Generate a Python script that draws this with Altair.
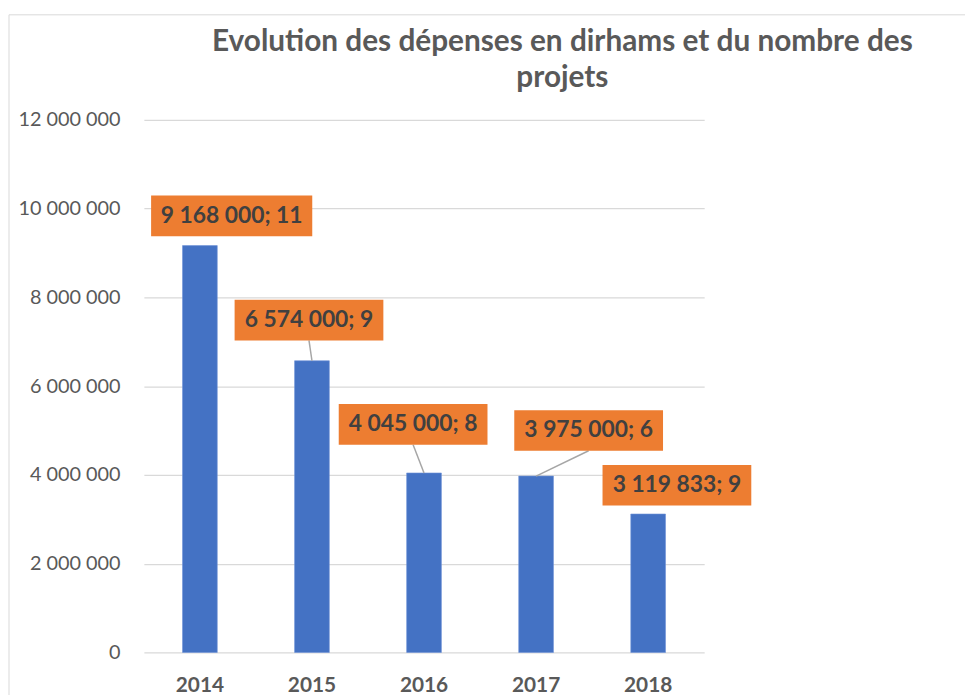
import altair as alt
import pandas as pd

# ---- data ----
years = ["2014", "2015", "2016", "2017", "2018"]
depenses = [9168000, 6574000, 4045000, 3975000, 3119833]
projets = [11, 9, 8, 6, 9]
title_lines = ["Evolution des dépenses en dirhams et du nombre des", "projets"]

# label placement (pixel offsets of the label box centre from the bar top)
label_dx = [32, -3, -11, 53, 29]
label_dy = [-30, -41, -49, -46, -29]

BOX_H = 41
FONT = "Lato"

def fmt(v):
    return f"{v:,}".replace(",", " ")

labels = [f"{fmt(v)}; {n}" for v, n in zip(depenses, projets)]

rows = []
for y, v, n, lab, dx, dy in zip(years, depenses, projets, labels, label_dx, label_dy):
    w = 12.5 * len(lab)
    box = f"M{dx - w/2:.1f},{dy - BOX_H/2:.1f}h{w:.1f}v{BOX_H}h{-w:.1f}Z"
    ey = dy + BOX_H / 2
    if abs(ey) > 15:
        leader = f"M0,0L{dx},{ey:.1f}"
    else:
        leader = "M0,0L0,0"
    rows.append(dict(annee=y, depenses=v, projets=n, label=lab, box=box, leader=leader))
df = pd.DataFrame(rows)

W, H = 565, 537

base = alt.Chart(df)
xenc = alt.X("annee:N", sort=years,
             scale=alt.Scale(paddingInner=0.69, paddingOuter=0.345),
             axis=alt.Axis(title=None, labelAngle=0, labelFont=FONT, labelFontSize=21,
                           labelFontWeight="bold", labelColor="#595959", labelPadding=22,
                           ticks=False, domain=False, grid=False))
yenc = alt.Y("depenses:Q",
             scale=alt.Scale(domain=[0, 12000000], nice=False),
             axis=alt.Axis(title=None, values=list(range(0, 12000001, 2000000)),
                           labelExpr="replace(replace(format(datum.value, ','), ',', ' '), ',', ' ')",
                           labelFont=FONT, labelFontSize=20, labelColor="#595959",
                           labelPadding=24, ticks=False, domain=False,
                           gridColor="#D9D9D9", gridWidth=1.3))

bars = base.mark_bar(color="#4472C4", stroke="#6E92D6", strokeWidth=0.6).encode(x=xenc, y=yenc)

leaders = base.mark_point(filled=False, stroke="#A6A6A6", strokeWidth=1.5, size=4, opacity=1).encode(
    x=alt.X("annee:N", sort=years), y="depenses:Q",
    shape=alt.Shape("leader:N", scale=None))

boxes = base.mark_point(filled=True, fill="#ED7D31", strokeWidth=0, size=4, opacity=1).encode(
    x=alt.X("annee:N", sort=years), y="depenses:Q",
    shape=alt.Shape("box:N", scale=None))

texts = []
for y, dx, dy in zip(years, label_dx, label_dy):
    texts.append(
        base.transform_filter(alt.datum.annee == y).mark_text(
            dx=dx, dy=dy, font=FONT, fontSize=23, fontWeight="bold", color="#404040",
            align="center", baseline="middle"
        ).encode(x=alt.X("annee:N", sort=years), y="depenses:Q", text="label:N")
    )

one = alt.Chart(alt.Data(values=[{"a": 1}]))
frame_left = one.mark_rule(color="#D9D9D9", strokeWidth=1).encode(
    x=alt.value(-136), y=alt.value(-106), y2=alt.value(700))
frame_top = one.mark_rule(color="#D9D9D9", strokeWidth=1).encode(
    x=alt.value(-136), x2=alt.value(900), y=alt.value(-106))

title_marks = []
for line, ypix in zip(title_lines, [-70, -33]):
    title_marks.append(
        one.mark_text(font=FONT, fontSize=30, fontWeight="bold", color="#595959",
                      align="center", baseline="alphabetic").encode(
            x=alt.value(422), y=alt.value(ypix), text=alt.value(line))
    )

chart = alt.layer(frame_left, frame_top, bars, leaders, boxes, *texts, *title_marks).properties(
    width=W, height=H,
    background="white",
    autosize=alt.AutoSizeParams(type="none"),
    padding={"left": 137, "top": 110, "right": 263, "bottom": 40},
).configure_view(stroke="transparent", strokeWidth=0)

chart.save("out.html", embed_options={"renderer": "svg", "actions": False})
